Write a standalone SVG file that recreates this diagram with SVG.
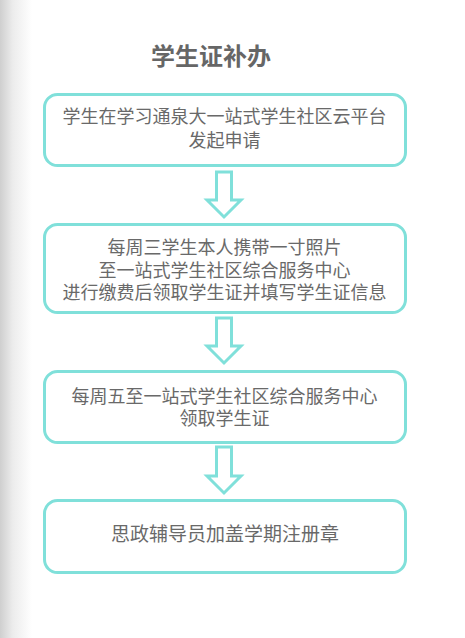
<svg xmlns="http://www.w3.org/2000/svg" width="465" height="638" viewBox="0 0 465 638">
<defs>
<linearGradient id="shade" x1="0" y1="0" x2="1" y2="0">
<stop offset="0" stop-color="#cfcfcf"/>
<stop offset="0.4" stop-color="#ececec"/>
<stop offset="1" stop-color="#ffffff"/>
</linearGradient>
<style>
.box{fill:#ffffff;stroke:#80e0da;stroke-width:3}
.arr{fill:#ffffff;stroke:#80e0da;stroke-width:3;stroke-linejoin:miter}
.t{font-family:"Noto Sans CJK SC","Noto Sans",sans-serif;font-size:18px;fill:#696969;text-anchor:middle}
.title{font-family:"Noto Sans CJK SC","Noto Sans",sans-serif;font-size:24px;font-weight:bold;fill:#666666;text-anchor:middle}
</style>
</defs>
<rect x="0" y="0" width="465" height="638" fill="#ffffff"/>
<rect x="0" y="0" width="32" height="638" fill="url(#shade)"/>
<text class="title" x="211" y="65">学生证补办</text>
<g id="connectors">
<path class="arr" d="M216.5,172 H231.5 V200 H241 L224,217 L207,200 H216.5 Z"/>
<path class="arr" d="M216.5,318 H231.5 V346 H241 L224,363 L207,346 H216.5 Z"/>
<path class="arr" d="M216.5,447 H231.5 V476 H241 L224,493 L207,476 H216.5 Z"/>
</g>
<g id="node1">
<rect class="box" x="44.5" y="94.5" width="361" height="71" rx="13"/>
<text class="t" x="224.5" y="123">学生在学习通泉大一站式学生社区云平台</text>
<text class="t" x="224.5" y="147">发起申请</text>
</g>
<g id="node2">
<rect class="box" x="44.5" y="224.5" width="361" height="88" rx="13"/>
<text class="t" x="224.5" y="254">每周三学生本人携带一寸照片</text>
<text class="t" x="224.5" y="277">至一站式学生社区综合服务中心</text>
<text class="t" x="224.5" y="299">进行缴费后领取学生证并填写学生证信息</text>
</g>
<g id="node3">
<rect class="box" x="44.5" y="371.5" width="361" height="71" rx="13"/>
<text class="t" x="224.5" y="403">每周五至一站式学生社区综合服务中心</text>
<text class="t" x="224.5" y="425">领取学生证</text>
</g>
<g id="node4">
<rect class="box" x="44.5" y="500.5" width="361" height="72" rx="13"/>
<text class="t" x="225" y="541" style="font-size:19px">思政辅导员加盖学期注册章</text>
</g>
</svg>
